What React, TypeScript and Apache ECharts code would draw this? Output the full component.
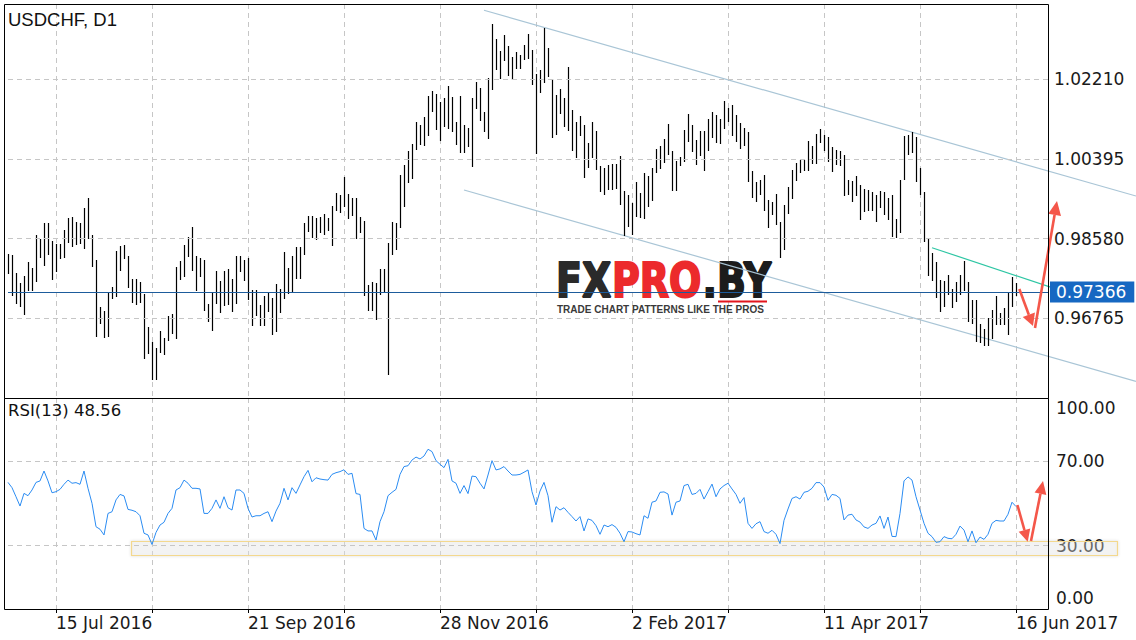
import React, { useEffect, useRef } from "react";
import * as echarts from "echarts";

// ---------- DATA ----------
const highs = [
  0.98229, 0.98206, 0.97796, 0.97569, 0.97728, 0.98047, 0.9791, 0.98661, 0.9857, 0.98934,
  0.98934, 0.98524, 0.98456, 0.98456, 0.98775, 0.99048, 0.9907, 0.98957, 0.98934, 0.99275,
  0.99503, 0.98661, 0.98092, 0.97023, 0.96932, 0.97364, 0.97478, 0.98297, 0.98411, 0.98433,
  0.98183, 0.9766, 0.9766, 0.97591, 0.97318, 0.96567, 0.96226, 0.9609, 0.96476, 0.96317,
  0.96818, 0.96863, 0.97933, 0.98069, 0.98433, 0.98615, 0.98843, 0.98183, 0.98138, 0.98092,
  0.97091, 0.97364, 0.97842, 0.97614, 0.97842, 0.97887, 0.9766, 0.98183, 0.98183, 0.98092,
  0.98138, 0.97409, 0.97409, 0.97068, 0.97273, 0.97364, 0.97227, 0.97546, 0.97432, 0.98274,
  0.9791, 0.98183, 0.98388, 0.98388, 0.98934, 0.99093, 0.99093, 0.99048, 0.9907, 0.99139,
  0.99048, 0.99321, 0.99617, 0.99571, 0.99981, 0.99594, 0.99503, 0.99503, 0.9907, 0.98979,
  0.97523, 0.97591, 0.97569, 0.97887, 0.97887, 0.98479, 0.98957, 0.98934, 1.00026, 1.00254,
  1.00572, 1.00731, 1.01232, 1.01164, 1.01346, 1.01824, 1.01937, 1.01869, 1.01687, 1.01778,
  1.02051, 1.01801, 1.01232, 1.01824, 1.01164, 1.01096, 1.01778, 1.02142, 1.02006, 1.0146,
  1.02233, 1.03462, 1.03121, 1.02848, 1.03212, 1.02961, 1.02711, 1.02825, 1.02757, 1.02984,
  1.03234, 1.0287, 1.02324, 1.02415, 1.03371, 1.02916, 1.0221, 1.01846, 1.01983, 1.01778,
  1.02484, 1.01505, 1.01232, 1.01369, 1.01164, 1.00754, 1.01232, 1.01027, 1.00231, 1.00185,
  1.00254, 1.00276, 1.00276, 1.00458, 0.99662, 0.99571, 0.99389, 0.99867, 0.99617, 1.00072,
  1.00003, 1.00185, 1.00618, 1.00686, 1.00845, 1.01187, 1.00572, 1.00345, 1.00436, 1.0105,
  1.01414, 1.01164, 1.00822, 1.01027, 1.01027, 1.013, 1.0146, 1.01391, 1.013, 1.0171,
  1.01551, 1.01619, 1.01391, 1.01209, 1.01096, 1.01005, 1.00117, 0.99867, 0.99912, 1.00026,
  0.99457, 0.99412, 0.99594, 0.98957, 0.99343, 0.99753, 1.0014, 1.00299, 1.00367, 1.00367,
  1.008, 1.00686, 1.00959, 1.01073, 1.00936, 1.00891, 1.00663, 1.00595, 1.00572, 1.00481,
  0.99912, 0.9989, 1.00003, 0.99799, 0.99708, 0.99685, 0.99639, 0.99571, 0.99662, 0.99639,
  0.99503, 0.99571, 0.99025, 0.99912, 1.00914, 1.00936, 1.01005, 1.00891, 1.00185, 0.99639,
  0.98593, 0.98251, 0.98047, 0.97637, 0.97614, 0.97751, 0.97432, 0.97591, 0.97751, 0.98069,
  0.97591, 0.97182, 0.97182, 0.96636, 0.96522, 0.96772, 0.96954, 0.97273, 0.96886, 0.97,
  0.97341, 0.97705, 0.97569,
];

const lows = [
  0.97773, 0.97273, 0.97091, 0.97023, 0.96841, 0.97387, 0.97387, 0.97591, 0.98138, 0.97955,
  0.98206, 0.97637, 0.97819, 0.98115, 0.98138, 0.98479, 0.98388, 0.98433, 0.98456, 0.98342,
  0.9857, 0.97933, 0.9634, 0.96636, 0.96317, 0.9634, 0.97205, 0.9725, 0.97842, 0.98115,
  0.97455, 0.97114, 0.97068, 0.97114, 0.95839, 0.95953, 0.95362, 0.95362, 0.95976, 0.9593,
  0.96249, 0.96408, 0.96294, 0.97637, 0.97705, 0.9816, 0.97842, 0.97387, 0.97705, 0.96932,
  0.96681, 0.96476, 0.97091, 0.96886, 0.97045, 0.97068, 0.96909, 0.97091, 0.97819, 0.97614,
  0.97182, 0.9659, 0.96818, 0.9659, 0.9659, 0.96909, 0.96385, 0.96454, 0.96886, 0.97205,
  0.97318, 0.97341, 0.9766, 0.9766, 0.98206, 0.98729, 0.98593, 0.98547, 0.98706, 0.98661,
  0.98752, 0.98411, 0.99207, 0.99161, 0.99298, 0.99025, 0.99093, 0.9857, 0.98706, 0.97273,
  0.96932, 0.96932, 0.96727, 0.97296, 0.97341, 0.95475, 0.98206, 0.9832, 0.9882, 0.99298,
  0.99844, 0.99935, 1.00595, 1.00709, 1.00686, 1.00914, 1.0146, 1.0105, 1.008, 1.01118,
  1.01073, 1.01005, 1.00709, 1.00527, 1.00527, 1.00663, 1.00208, 1.01528, 1.01255, 1.01005,
  1.00845, 1.0196, 1.02415, 1.0221, 1.0262, 1.02279, 1.02188, 1.02438, 1.02438, 1.02643,
  1.02666, 1.02074, 1.00504, 1.01892, 1.02119, 1.02256, 1.00868, 1.00936, 1.01414, 1.01118,
  1.01027, 1.00572, 1.00413, 1.00914, 0.99958, 1.00185, 1.00413, 1.0014, 0.99639, 0.99571,
  0.99685, 0.99685, 0.99708, 0.99343, 0.98638, 0.98843, 0.98661, 0.9907, 0.99048, 0.99025,
  0.99298, 0.99434, 1.00072, 1.00163, 1.00299, 1.00481, 0.99662, 0.99662, 1.00231, 1.00322,
  1.00777, 1.00549, 1.00254, 1.00458, 1.00117, 1.00572, 1.00868, 1.00754, 1.00731, 1.01073,
  1.01232, 1.00914, 1.00777, 1.00618, 1.00686, 0.99867, 0.99503, 0.99412, 0.99571, 0.99207,
  0.9882, 0.99116, 0.98888, 0.98138, 0.9832, 0.99139, 0.9948, 0.9989, 1.00072, 1.00117,
  1.00117, 1.00276, 1.00276, 1.00754, 1.00572, 1.00322, 1.00094, 1.00254, 1.00231, 0.99548,
  0.99571, 0.99412, 0.99548, 0.99002, 0.99184, 0.99207, 0.99207, 0.98957, 0.99275, 0.99116,
  0.99002, 0.98615, 0.98593, 0.98706, 0.99912, 1.00481, 1.00527, 0.99867, 0.99571, 0.98502,
  0.97728, 0.97614, 0.97227, 0.96909, 0.97023, 0.97296, 0.97, 0.97136, 0.97296, 0.97387,
  0.96681, 0.96636, 0.96226, 0.96203, 0.96135, 0.96135, 0.96294, 0.96613, 0.96613, 0.96613,
  0.96385, 0.97023, 0.97273,
];

const rsi = [
  60.0, 57.5, 53.2, 48.8, 54.8, 53.7, 56.4, 60.0, 60.7, 65.4,
  60.7, 55.1, 55.6, 56.7, 59.1, 61.1, 59.6, 59.9, 59.1, 65.4,
  57.2, 50.1, 39.0, 37.8, 35.1, 45.3, 46.1, 51.7, 54.3, 53.6,
  47.2, 46.8, 46.1, 44.2, 35.9, 35.1, 30.6, 36.3, 39.8, 41.1,
  45.3, 47.7, 56.4, 57.5, 61.1, 59.6, 57.2, 57.2, 56.9, 45.3,
  45.3, 47.7, 51.7, 47.7, 53.2, 48.0, 46.9, 56.4, 56.4, 54.8,
  47.7, 43.6, 44.2, 44.2, 45.3, 46.1, 41.4, 46.4, 50.1, 57.2,
  51.7, 57.5, 54.8, 58.8, 62.7, 65.7, 60.3, 62.2, 61.6, 61.3,
  61.1, 63.8, 64.6, 65.1, 66.0, 63.8, 64.3, 54.7, 54.3, 38.2,
  37.0, 37.0, 32.7, 41.4, 46.1, 53.7, 55.3, 56.7, 63.8, 67.5,
  67.9, 70.6, 72.0, 71.1, 72.5, 75.7, 74.6, 70.3, 68.6, 67.0,
  70.9, 60.7, 59.6, 54.8, 58.5, 54.7, 63.0, 62.7, 59.6, 56.9,
  63.5, 70.3, 65.9, 66.4, 67.5, 65.4, 63.5, 63.5, 63.8, 64.8,
  65.9, 55.6, 49.3, 55.9, 60.0, 53.7, 41.1, 48.5, 46.9, 48.0,
  45.8, 43.8, 41.7, 43.8, 37.0, 42.7, 42.0, 39.5, 35.4, 39.8,
  39.0, 40.0, 38.7, 35.9, 31.9, 36.7, 36.5, 35.7, 35.1, 44.2,
  43.0, 50.6, 51.2, 55.3, 55.5, 54.5, 44.5, 50.6, 51.2, 58.5,
  59.1, 54.3, 54.8, 56.7, 52.1, 55.6, 59.2, 53.2, 56.9, 58.5,
  59.6, 56.9, 54.3, 50.1, 52.8, 40.6, 38.2, 40.4, 41.4, 36.7,
  35.9, 37.3, 35.4, 31.0, 42.0, 47.4, 52.4, 53.2, 52.1, 55.3,
  55.8, 57.2, 59.9, 59.9, 57.8, 51.5, 54.3, 53.9, 52.4, 42.2,
  44.5, 44.9, 42.2, 41.2, 38.9, 38.2, 39.8, 40.6, 44.1, 38.2,
  43.6, 34.4, 34.3, 45.3, 60.7, 62.6, 61.1, 53.2, 46.9, 40.6,
  35.9, 34.3, 31.6, 31.9, 34.3, 33.5, 33.3, 35.4, 39.3, 37.4,
  31.9, 37.0, 31.4, 34.1, 33.0, 35.4, 40.6, 42.0, 41.7, 41.7,
  44.9, 50.6, 48.56,
];

const priceLevels = [1.0221, 1.00395, 0.9858, 0.96765];
const lastPrice = 0.97366;
const rsiLevels = [30, 70];
const rsiLabelValues = [0, 30, 70, 100];
// trend lines: [barIndexFrom, priceFrom, barIndexTo, priceTo]
const channelLines = [
  [119.25, 1.03774, 282, 0.99548],
  [113.7, 0.99685, 282, 0.95332],
];
const resistanceLine = [230.75, 0.98372, 267.25, 0.9728];

const START = { y: 2016, m: 5, d: 29 };
const SLOTS = 261; // trading-day slots incl. right shift
const MONTHS = ["Jan", "Feb", "Mar", "Apr", "May", "Jun", "Jul", "Aug", "Sep", "Oct", "Nov", "Dec"];

function buildCategories(): string[] {
  const out: string[] = [];
  const d = new Date(Date.UTC(START.y, START.m, START.d));
  while (out.length < SLOTS) {
    const wd = d.getUTCDay();
    if (wd !== 0 && wd !== 6) {
      out.push(`${d.getUTCDate()} ${MONTHS[d.getUTCMonth()]} ${d.getUTCFullYear()}`);
    }
    d.setUTCDate(d.getUTCDate() + 1);
  }
  return out;
}

const FONT = "DejaVu Sans";
const GRID_COLOR = "#c6c6c6";
const RED = "#f4574a";

function arrow(x1: number, y1: number, tx: number, ty: number, head: number, half: number) {
  const dx = tx - x1;
  const dy = ty - y1;
  const len = Math.hypot(dx, dy);
  const ux = dx / len;
  const uy = dy / len;
  const bx = tx - ux * head;
  const by = ty - uy * head;
  const px = -uy;
  const py = ux;
  return [
    {
      type: "line",
      z: 20,
      silent: true,
      shape: { x1, y1, x2: bx, y2: by },
      style: { stroke: RED, lineWidth: 2.6 },
    },
    {
      type: "polygon",
      z: 20,
      silent: true,
      shape: {
        points: [
          [tx, ty],
          [bx + px * half, by + py * half],
          [bx - px * half, by - py * half],
        ],
      },
      style: { fill: RED },
    },
  ];
}

export default function App() {
  const ref = useRef<HTMLDivElement>(null);

  useEffect(() => {
    if (!ref.current) return;
    const chart = echarts.init(ref.current, undefined, { renderer: "svg" });
    const cats = buildCategories();
    const barData = highs.map((h, i) => [i, lows[i], h]);
    const gridInterval = (index: number) => (index - 12) % 24 === 0;
    const labelInterval = (index: number) => (index - 12) % 48 === 0;

    const txt = (
      text: string,
      x: number,
      y: number,
      size: number,
      family: string,
      fill: string,
      weight: any = "normal",
      extra: any = {},
      strokeW = 0
    ) => ({
      type: "text",
      x,
      y,
      z: 5,
      silent: true,
      ...extra,
      style: {
        text,
        fill,
        fontSize: size,
        fontFamily: family,
        fontWeight: weight,
        align: "left",
        verticalAlign: "middle",
        textAlign: "left",
        textVerticalAlign: "middle",
        ...(strokeW ? { stroke: fill, lineWidth: strokeW } : {}),
      },
    });

    const option: any = {
      animation: false,
      backgroundColor: "#fff",
      grid: [
        { left: 8, right: 88, top: 4, height: 394 },
        { left: 8, right: 88, top: 398, height: 211 },
      ],
      xAxis: [
        {
          gridIndex: 0,
          type: "category",
          data: cats,
          boundaryGap: false,
          axisLine: { show: false },
          axisTick: { show: false },
          axisLabel: { show: false },
          splitLine: { show: true, interval: gridInterval, lineStyle: { color: GRID_COLOR, type: [5, 4], width: 1 } },
        },
        {
          gridIndex: 1,
          type: "category",
          data: cats,
          boundaryGap: false,
          axisLine: { show: false },
          axisTick: { show: true, interval: gridInterval, length: 4, lineStyle: { color: "#000" } },
          axisLabel: {
            show: true,
            interval: labelInterval,
            align: "left",
            margin: 5,
            fontFamily: FONT,
            fontSize: 17,
            color: "#1a1a1a",
          },
          splitLine: { show: true, interval: gridInterval, lineStyle: { color: GRID_COLOR, type: [5, 4], width: 1 } },
        },
      ],
      yAxis: [
        {
          gridIndex: 0,
          type: "value",
          position: "right",
          min: 0.94952,
          max: 1.03917,
          axisLine: { show: false },
          axisTick: { show: false },
          axisLabel: { show: false },
          splitLine: { show: false },
        },
        {
          gridIndex: 1,
          type: "value",
          position: "right",
          min: 0,
          max: 100,
          interval: 10,
          axisLine: { show: false },
          axisTick: { show: false },
          splitLine: { show: false },
          axisLabel: {
            margin: 8,
            fontFamily: FONT,
            fontSize: 17,
            color: "#1a1a1a",
            formatter: (v: number) => {
              const r = Math.round(v);
              if (!rsiLabelValues.includes(r)) return "";
              if (r === 100) return "{t|" + r.toFixed(2) + "}";
              if (r === 0) return "{b|" + r.toFixed(2) + "}";
              return "{m|" + r.toFixed(2) + "}";
            },
            rich: {
              t: { fontFamily: FONT, fontSize: 17, color: "#1a1a1a", padding: [20, 0, 0, 0] },
              b: { fontFamily: FONT, fontSize: 17, color: "#1a1a1a", padding: [0, 0, 22, 0] },
              m: { fontFamily: FONT, fontSize: 17, color: "#1a1a1a" },
            },
          },
        },
      ],
      series: [
        {
          type: "custom",
          name: "trend",
          xAxisIndex: 0,
          yAxisIndex: 0,
          z: 1,
          silent: true,
          encode: { x: [0, 2], y: [1, 3] },
          data: [...channelLines, resistanceLine],
          renderItem: (params: any, api: any) => {
            const a = api.coord([api.value(0), api.value(1)]);
            const b = api.coord([api.value(2), api.value(3)]);
            const color = params.dataIndex === 2 ? "#2fc6a4" : "#a9c5d6";
            return {
              type: "line",
              shape: { x1: a[0], y1: a[1], x2: b[0], y2: b[1] },
              style: { stroke: color, lineWidth: 1.2 },
            };
          },
        },
        {
          type: "custom",
          name: "USDCHF",
          xAxisIndex: 0,
          yAxisIndex: 0,
          z: 3,
          silent: true,
          encode: { x: 0, y: [1, 2] },
          data: barData,
          renderItem: (params: any, api: any) => {
            const lo = api.coord([api.value(0), api.value(1)]);
            const hi = api.coord([api.value(0), api.value(2)]);
            const x = Math.round(lo[0]) + 0.5;
            return {
              type: "line",
              shape: { x1: x, y1: Math.round(hi[1]), x2: x, y2: Math.round(lo[1]) },
              style: { stroke: "#000", lineWidth: 1.2 },
            };
          },
          markLine: {
            silent: true,
            precision: 5,
            symbol: ["none", "none"],
            animation: false,
            lineStyle: { color: GRID_COLOR, type: [5, 4], width: 1 },
            label: {
              show: true,
              position: "end",
              distance: 6,
              fontFamily: FONT,
              fontSize: 17,
              color: "#1a1a1a",
              formatter: (p: any) => Number(p.value).toFixed(5),
            },
            data: [
              ...priceLevels.map((v) => ({ yAxis: v })),
              {
                yAxis: lastPrice,
                lineStyle: { color: "#1d5c9c", type: "solid", width: 1 },
                label: {
                  show: true,
                  position: "end",
                  distance: 2,
                  backgroundColor: "#1668c2",
                  color: "#fff",
                  padding: [2, 8, 2, 6],
                  fontFamily: FONT,
                  fontSize: 17,
                  formatter: (p: any) => Number(p.value).toFixed(5),
                },
              },
            ],
          },
        },
        {
          type: "line",
          name: "RSI(13)",
          xAxisIndex: 1,
          yAxisIndex: 1,
          data: rsi,
          showSymbol: false,
          symbol: "none",
          z: 3,
          silent: true,
          lineStyle: { color: "#2b8cf2", width: 1 },
          markLine: {
            silent: true,
            symbol: ["none", "none"],
            animation: false,
            label: { show: false },
            lineStyle: { color: GRID_COLOR, type: [5, 4], width: 1 },
            data: rsiLevels.map((v) => ({ yAxis: v })),
          },
        },
      ],
      graphic: [
        // pane borders
        { type: "rect", z: 30, silent: true, shape: { x: 4.5, y: 4.5, width: 1044, height: 394 }, style: { fill: "none", stroke: "#000", lineWidth: 1 } },
        { type: "rect", z: 30, silent: true, shape: { x: 4.5, y: 398.5, width: 1044, height: 211 }, style: { fill: "none", stroke: "#000", lineWidth: 1 } },
        // oversold highlight box in RSI pane
        {
          type: "rect",
          z: 2,
          silent: true,
          shape: { x: 131.5, y: 541.5, width: 986, height: 14 },
          style: { fill: "rgba(235,235,235,0.35)", stroke: "#f3d88e", lineWidth: 1.2, shadowBlur: 3, shadowColor: "rgba(0,0,0,0.18)" },
        },
        // titles
        txt("USDCHF, D1", 8, 19, 18.5, "Liberation Sans", "#111"),
        txt("RSI(13) 48.56", 8, 410, 16.5, FONT, "#111"),
        // watermark logo
        txt("FX", 556, 280, 38, FONT, "#2a2a2a", "bold", { scaleY: 1.25, z: 1 }, 1.6),
        txt("PRO", 612, 280, 38, FONT, "#ec2a2c", "bold", { scaleY: 1.25, z: 1 }, 1.6),
        txt(".BY", 702.5, 280, 38, FONT, "#1c1c1c", "bold", { scaleY: 1.25, z: 1 }, 1.6),
        { type: "line", z: 1, silent: true, shape: { x1: 718, y1: 301.5, x2: 767, y2: 301.5 }, style: { stroke: "#e3151d", lineWidth: 2 } },
        txt("TRADE CHART PATTERNS LIKE THE PROS", 557, 309, 10, "Liberation Sans", "#3a3a3a", "bold", { z: 1 }),
        // arrows
        ...arrow(1019.3, 289, 1033, 326, 12, 6.5),
        ...arrow(1035, 328, 1057, 201, 14, 6.5),
        ...arrow(1017.4, 505, 1027.7, 541.7, 12, 6),
        ...arrow(1031, 541, 1043, 481, 13, 6),
      ],
    };

    chart.setOption(option);
    return () => chart.dispose();
  }, []);

  return (
    <div
      ref={ref}
      style={{ position: "absolute", left: 0, top: 0, width: 1136, height: 640, background: "#fff" }}
    />
  );
}
